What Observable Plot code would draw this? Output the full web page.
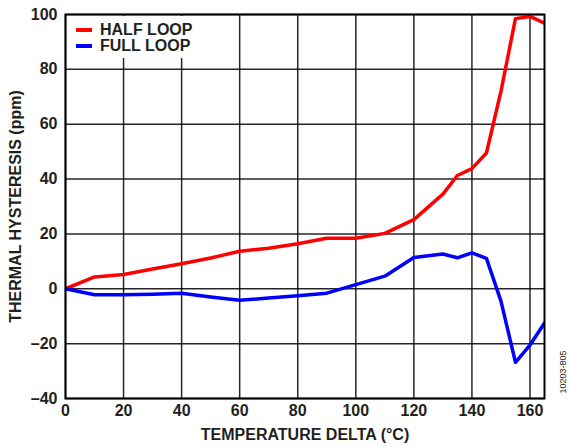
<!DOCTYPE html>
<html>
<head>
<meta charset="utf-8">
<script src="https://cdn.jsdelivr.net/npm/d3@7"></script>
<script src="https://cdn.jsdelivr.net/npm/@observablehq/plot@0.6"></script>
<style>
  body { margin: 0; background: #fff; }
  #wrap { position: relative; width: 571px; height: 447px; font-family: "Liberation Sans", Arial, sans-serif; }
  #legend { position: absolute; left: 67px; top: 16px; width: 126px; height: 42px; background: #fff; }
  .lg { position: absolute; left: 9px; font-weight: bold; font-size: 16px; line-height: 16px; color: #231f20; display: flex; align-items: center; white-space: nowrap; width: 117px; }
  .sw { width: 16px; height: 3.5px; margin-right: 8px; flex: none; }
</style>
</head>
<body>
<div id="wrap"></div>
<script>
const temps = [0, 10, 20, 30, 40, 50, 60, 70, 80, 90, 100, 110, 120, 130, 135, 140, 145, 150, 155, 160, 165];
const halfLoop = [0, 4.3, 5.2, 7.2, 9.1, 11.2, 13.7, 14.8, 16.4, 18.4, 18.4, 20.2, 25.2, 34.5, 41.3, 43.8, 49.5, 72, 98.5, 99.3, 96.8];
const fullLoop = [0, -2.2, -2.2, -2.0, -1.6, -3.0, -4.2, -3.4, -2.5, -1.6, 1.5, 4.6, 11.4, 12.7, 11.3, 13.1, 11.1, -4.5, -26.8, -20.5, -12.5];
const xTicks = [0, 20, 40, 60, 80, 100, 120, 140, 160];
const yTicks = [-40, -20, 0, 20, 40, 60, 80, 100];
const seriesNames = ["HALF LOOP", "FULL LOOP"];
const seriesColors = ["#ff0000", "#0000ff"];

const data = [];
temps.forEach((t, i) => {
  data.push({t, v: halfLoop[i], s: seriesNames[0]});
  data.push({t, v: fullLoop[i], s: seriesNames[1]});
});

const textColor = "#231f20";
const fmt = d => d < 0 ? "\u2013" + Math.abs(d) : String(d);

const chart = Plot.plot({
  width: 571,
  height: 447,
  marginLeft: 65,
  marginRight: 27,
  marginTop: 14,
  marginBottom: 49,
  style: {fontFamily: "Liberation Sans, Arial, sans-serif", background: "#fff"},
  x: {domain: [0, 165]},
  y: {domain: [-40, 100]},
  color: {domain: seriesNames, range: seriesColors},
  marks: [
    Plot.ruleX(xTicks, {stroke: "#000", strokeWidth: 1.5, strokeOpacity: 0.85}),
    Plot.ruleY(yTicks, {stroke: "#000", strokeWidth: 1.5, strokeOpacity: 0.85}),
    Plot.line(data, {x: "t", y: "v", z: "s", stroke: "s", strokeWidth: 3.5, clip: true}),
    Plot.frame({stroke: "#000", strokeWidth: 2, strokeOpacity: 1}),
    Plot.axisX(xTicks, {tickSize: 0, tickPadding: 6, fontSize: 15, fontWeight: "bold", fill: textColor,
      label: "TEMPERATURE DELTA (°C)", labelAnchor: "center", labelArrow: "none", labelOffset: 41}),
    Plot.axisY(yTicks, {tickSize: 0, tickPadding: 8, fontSize: 15, fontWeight: "bold", fill: textColor, tickFormat: fmt,
      label: "THERMAL HYSTERESIS (ppm)", labelAnchor: "center", labelArrow: "none", labelOffset: 56})
  ]
});
d3.select(chart).selectAll("[aria-label$='label'] text").attr("font-size", 16).attr("font-weight", "bold").attr("fill", textColor);

const wrap = document.getElementById("wrap");
wrap.appendChild(chart);

// code id
const svg = d3.select(chart);
svg.append("text").attr("transform", "translate(566,372) rotate(-90)")
  .attr("text-anchor", "middle").attr("font-size", 9).attr("fill", textColor).text("10203-805");

// legend overlay
const lg = document.createElement("div");
lg.id = "legend";
seriesNames.forEach((n, i) => {
  const row = document.createElement("div");
  row.className = "lg";
  row.style.top = (i * 16 + 6) + "px";
  const sw = document.createElement("div");
  sw.className = "sw";
  sw.style.background = seriesColors[i];
  row.appendChild(sw);
  row.appendChild(document.createTextNode(n));
  lg.appendChild(row);
});
wrap.appendChild(lg);
</script>
</body>
</html>
